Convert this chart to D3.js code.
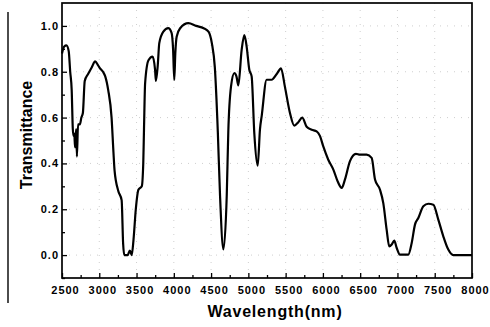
<!DOCTYPE html>
<html>
<head>
<meta charset="utf-8">
<script src="https://cdn.jsdelivr.net/npm/d3@7.9.0/dist/d3.min.js"></script>
<style>
  body { margin: 0; background: #fff; }
  svg { display: block; font-family: "Liberation Sans", Arial, sans-serif; }
  .tick text { font-weight: bold; font-size: 11px; letter-spacing: 1px; fill: #000; }
  .tick line { stroke: #000; stroke-width: 1.3; }
</style>
</head>
<body>
<svg id="chart" width="490" height="327"></svg>
<script>
// wavelength (nm) and transmittance
const wavelength = [2500, 2530, 2560, 2590, 2610, 2630, 2645, 2655, 2665, 2675, 2690, 2700, 2715, 2740, 2760, 2780, 2805, 2850, 2900, 2945, 2980, 3010, 3050, 3080, 3120, 3165, 3190, 3205, 3255, 3300, 3320, 3335, 3380, 3410, 3435, 3460, 3490, 3525, 3570, 3590, 3600, 3615, 3660, 3715, 3748, 3760, 3785, 3805, 3860, 3925, 3970, 3990, 4006, 4020, 4038, 4085, 4195, 4300, 4400, 4465, 4510, 4550, 4590, 4620, 4665, 4710, 4731, 4767, 4812, 4840, 4865, 4910, 4946, 4977, 5012, 5044, 5080, 5125, 5156, 5180, 5245, 5312, 5380, 5438, 5490, 5558, 5616, 5670, 5723, 5782, 5850, 5916, 5960, 6005, 6072, 6140, 6200, 6252, 6296, 6363, 6443, 6497, 6587, 6654, 6699, 6766, 6810, 6855, 6890, 6923, 6957, 6990, 7034, 7145, 7191, 7235, 7280, 7347, 7414, 7481, 7548, 7615, 7682, 7749, 8000];
const transmittance = [0.88, 0.91, 0.915, 0.89, 0.80, 0.72, 0.55, 0.52, 0.53, 0.47, 0.55, 0.43, 0.57, 0.57, 0.60, 0.62, 0.76, 0.79, 0.82, 0.845, 0.83, 0.815, 0.80, 0.78, 0.72, 0.60, 0.45, 0.37, 0.28, 0.24, 0.05, 0.0, 0.0, 0.02, 0.0, 0.07, 0.20, 0.285, 0.30, 0.40, 0.55, 0.75, 0.85, 0.866, 0.81, 0.76, 0.83, 0.925, 0.975, 0.99, 0.97, 0.90, 0.765, 0.88, 0.953, 0.99, 1.012, 1.0, 0.99, 0.975, 0.925, 0.82, 0.54, 0.26, 0.025, 0.26, 0.54, 0.735, 0.794, 0.78, 0.74, 0.895, 0.96, 0.91, 0.81, 0.78, 0.53, 0.39, 0.55, 0.61, 0.765, 0.765, 0.79, 0.815, 0.735, 0.62, 0.565, 0.58, 0.60, 0.56, 0.547, 0.54, 0.52, 0.474, 0.416, 0.373, 0.32, 0.293, 0.33, 0.41, 0.442, 0.438, 0.438, 0.424, 0.33, 0.285, 0.227, 0.111, 0.038, 0.046, 0.063, 0.031, 0.002, 0.002, 0.053, 0.133, 0.162, 0.213, 0.224, 0.22, 0.155, 0.082, 0.024, 0.0, 0.0];

const xMajor = [2500, 3000, 3500, 4000, 4500, 5000, 5500, 6000, 6500, 7000, 7500, 8000];
const yMajor = [0.0, 0.2, 0.4, 0.6, 0.8, 1.0];

const svg = d3.select('#chart');
const plotLeft = 62, plotRight = 472, plotTop = 3, plotBottom = 278;

const x = d3.scaleLinear().domain([2500, 8000]).range([plotLeft, plotRight]);
const y = d3.scaleLinear().domain([-0.1, 1.1]).range([plotBottom, plotTop]);

// faint dotted grid (barely visible in the scan)
const grid = svg.append('g').attr('stroke', '#cfcfcf').attr('stroke-width', 1).attr('stroke-dasharray', '1,6');
xMajor.slice(1, -1).forEach(v => {
  grid.append('line').attr('x1', x(v)).attr('x2', x(v)).attr('y1', plotTop).attr('y2', plotBottom);
});
yMajor.forEach(v => {
  grid.append('line').attr('x1', plotLeft).attr('x2', plotRight).attr('y1', y(v)).attr('y2', y(v));
});

// minor ticks
svg.append('g')
  .attr('transform', `translate(0,${plotBottom})`)
  .call(d3.axisBottom(x).tickValues(d3.range(2750, 8000, 500)).tickSize(-3).tickFormat(''))
  .call(g => g.select('.domain').remove());
svg.append('g')
  .attr('transform', `translate(${plotLeft},0)`)
  .call(d3.axisLeft(y).tickValues([-0.1, 0.1, 0.3, 0.5, 0.7, 0.9]).tickSize(-3).tickFormat(''))
  .call(g => g.select('.domain').remove());

// major ticks + labels
svg.append('g')
  .attr('transform', `translate(0,${plotBottom})`)
  .call(d3.axisBottom(x).tickValues(xMajor).tickSize(-5).tickPadding(8).tickFormat(d3.format('d')))
  .call(g => g.select('.domain').remove())
  .call(g => g.selectAll('text').attr('dx', 3));
svg.append('g')
  .attr('transform', `translate(${plotLeft},0)`)
  .call(d3.axisLeft(y).tickValues(yMajor).tickSize(-5).tickPadding(3).tickFormat(d3.format('.1f')))
  .call(g => g.select('.domain').remove());

// spectrum
const line = d3.line()
  .x((d, i) => x(wavelength[i]))
  .y(d => y(d))
  .curve(d3.curveMonotoneX);
svg.append('path')
  .datum(transmittance)
  .attr('fill', 'none')
  .attr('stroke', '#000')
  .attr('stroke-width', 2.2)
  .attr('stroke-linejoin', 'round')
  .attr('d', line);

// frame
svg.append('rect')
  .attr('x', plotLeft).attr('y', plotTop)
  .attr('width', plotRight - plotLeft).attr('height', plotBottom - plotTop)
  .attr('fill', 'none').attr('stroke', '#000').attr('stroke-width', 1.7);

// stray rule on the left of the scan
svg.append('line')
  .attr('x1', 8).attr('x2', 8).attr('y1', 12).attr('y2', 303)
  .attr('stroke', '#000').attr('stroke-width', 1.4);

// axis titles
svg.append('text')
  .attr('x', (plotLeft + plotRight) / 2 + 8).attr('y', 317)
  .attr('text-anchor', 'middle')
  .attr('font-weight', 'bold').attr('font-size', 16).attr('letter-spacing', 0.8)
  .text('Wavelength(nm)');
svg.append('text')
  .attr('transform', 'translate(32,135) rotate(-90)')
  .attr('text-anchor', 'middle')
  .attr('font-weight', 'bold').attr('font-size', 16)
  .text('Transmittance');
</script>
</body>
</html>
